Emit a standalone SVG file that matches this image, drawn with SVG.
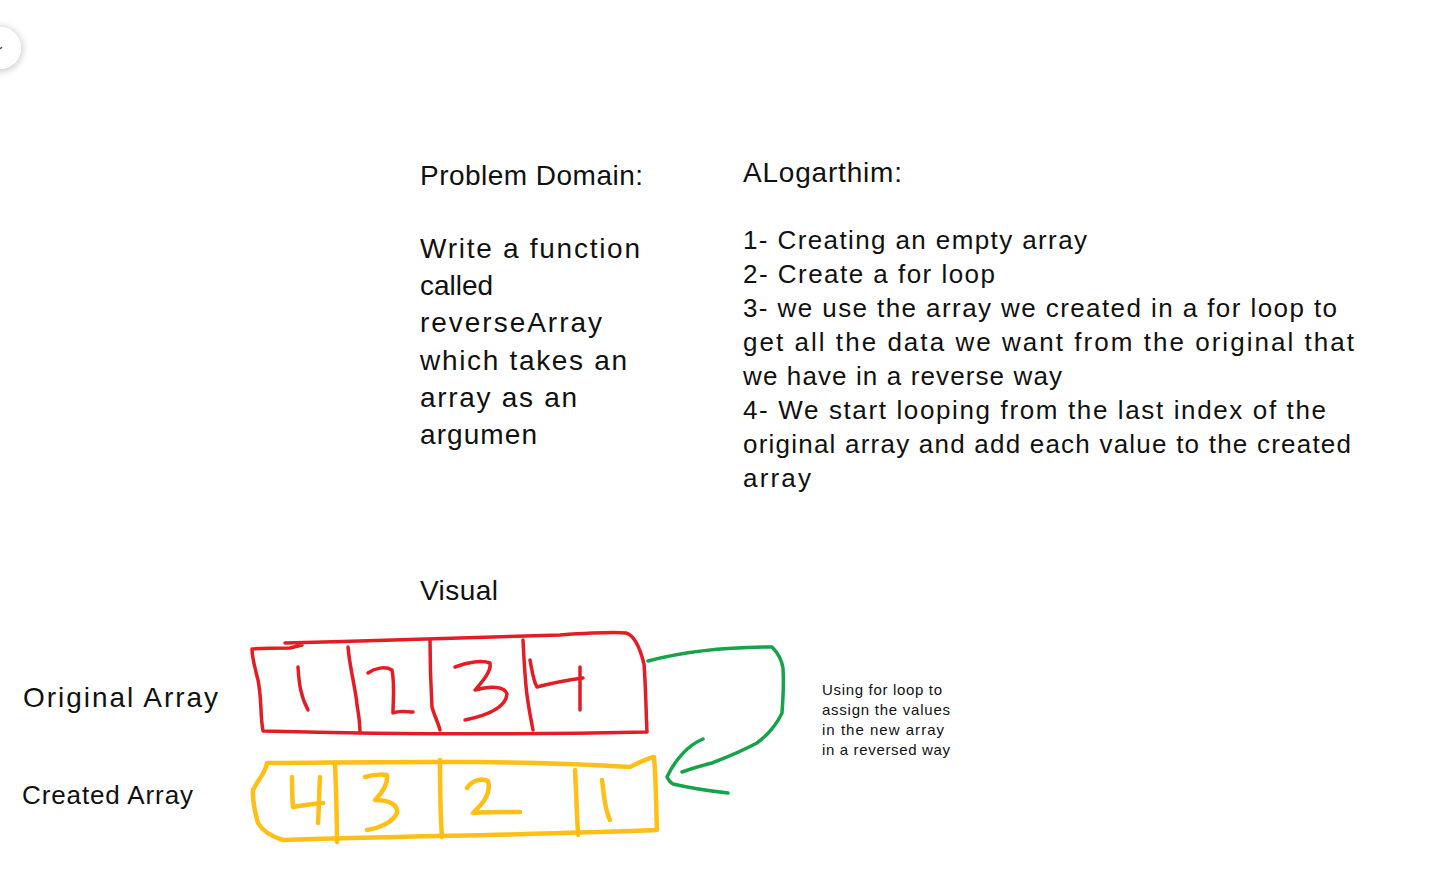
<svg xmlns="http://www.w3.org/2000/svg" width="1437" height="874" viewBox="0 0 1437 874">
<defs>
<filter id="sh" x="-50%" y="-50%" width="200%" height="200%"><feGaussianBlur in="SourceAlpha" stdDeviation="4"/><feOffset dx="0" dy="1"/><feComponentTransfer><feFuncA type="linear" slope="0.3"/></feComponentTransfer><feMerge><feMergeNode/><feMergeNode in="SourceGraphic"/></feMerge></filter>
</defs>
<style>
.t{font-family:"Liberation Sans","DejaVu Sans",sans-serif;fill:#111;font-size:26px}
.b{font-size:28px}
.s{font-size:15px}
.red{fill:none;stroke:#e51c23;stroke-width:3.5;stroke-linecap:round;stroke-linejoin:round}
.yel{fill:none;stroke:#ffbf16;stroke-width:4.5;stroke-linecap:round;stroke-linejoin:round}
.grn{fill:none;stroke:#17a349;stroke-width:3.5;stroke-linecap:round;stroke-linejoin:round}
</style>
<rect width="1437" height="874" fill="#fff"/>
<g id="corner-button"><circle cx="0" cy="48" r="21" fill="#fff" filter="url(#sh)"/><path d="M2 47 L0 49" stroke="#555" stroke-width="1.5"/></g>

<g id="problem-domain">
<text class="t b" x="420" y="185" textLength="223" lengthAdjust="spacing">Problem Domain:</text>
<text class="t b" x="420" y="258" textLength="220" lengthAdjust="spacing">Write a function</text>
<text class="t b" x="420" y="295" textLength="73" lengthAdjust="spacing">called</text>
<text class="t b" x="420" y="332" textLength="182" lengthAdjust="spacing">reverseArray</text>
<text class="t b" x="420" y="370" textLength="207" lengthAdjust="spacing">which takes an</text>
<text class="t b" x="420" y="407" textLength="157" lengthAdjust="spacing">array as an</text>
<text class="t b" x="420" y="444" textLength="117" lengthAdjust="spacing">argumen</text>
</g>

<g id="algorithm">
<text class="t b" x="743" y="182" textLength="159" lengthAdjust="spacing">ALogarthim:</text>
<text class="t" x="743" y="249" textLength="344" lengthAdjust="spacing">1- Creating an empty array</text>
<text class="t" x="743" y="283" textLength="252" lengthAdjust="spacing">2- Create a for loop</text>
<text class="t" x="743" y="317" textLength="594" lengthAdjust="spacing">3- we use the array we created in a for loop to</text>
<text class="t" x="743" y="351" textLength="611" lengthAdjust="spacing">get all the data we want from the original that</text>
<text class="t" x="743" y="385" textLength="319" lengthAdjust="spacing">we have in a reverse way</text>
<text class="t" x="743" y="419" textLength="583" lengthAdjust="spacing">4- We start looping from the last index of the</text>
<text class="t" x="743" y="453" textLength="608" lengthAdjust="spacing">original array and add each value to the created</text>
<text class="t" x="743" y="487" textLength="68" lengthAdjust="spacing">array</text>
</g>

<g id="visual-label"><text class="t b" x="420" y="600" textLength="78" lengthAdjust="spacing">Visual</text></g>
<g id="original-label"><text class="t b" x="23" y="707" textLength="195" lengthAdjust="spacing">Original Array</text></g>
<g id="created-label"><text class="t" x="22" y="804" textLength="171" lengthAdjust="spacing">Created Array</text></g>

<g id="original-array">
<path class="red" d="M290 648 L302 645 M285 643 C380 641 480 637 560 635 C590 633 615 632 626 633 C634 635 640 648 644 664 C646 690 646 715 647 732 C560 734 420 735 263 731 C260 715 262 700 258 680 C255 668 252 658 252 649 C265 648 280 648 290 648"/>
<path class="red" d="M348 647 C350 670 356 690 357 705 C359 716 360 725 360 733"/>
<path class="red" d="M430 640 C430 660 431 690 432 707 C434 715 438 722 440 730"/>
<path class="red" d="M523 640 C524 660 525 680 527 695 C529 710 531 720 533 730"/>
<path class="red" d="M298 667 C299 682 300 695 308 710"/>
<path class="red" d="M368 673 C375 668 385 666 392 670 C395 685 393 700 393 713 C400 710 407 712 413 712"/>
<path class="red" d="M455 667 C468 662 482 660 490 663 C492 672 480 684 475 690 C490 686 505 686 507 694 C506 708 485 716 465 720"/>
<path class="red" d="M530 660 C532 670 533 680 537 687 C552 683 568 680 583 678 M580 667 C580 685 580 698 580 710"/>
</g>

<g id="created-array">
<path class="yel" d="M267 763 C400 762 520 760 630 767 C640 762 648 758 654 757 C656 780 656 805 657 830 C560 834 420 836 283 840 C270 836 262 830 258 823 C255 812 252 800 253 790 C258 780 266 772 267 763"/>
<path class="yel" d="M335 763 C336 790 337 815 337 842"/>
<path class="yel" d="M440 760 C440 785 440 810 442 837"/>
<path class="yel" d="M575 770 C576 790 577 815 578 835"/>
<path class="yel" d="M292 777 C292 787 292 798 293 807 C303 805 313 804 323 803 M320 777 C319 792 319 808 318 823"/>
<path class="yel" d="M365 777 C372 775 380 774 387 775 C388 785 380 795 375 800 C390 800 398 805 397 813 C393 822 380 828 367 830"/>
<path class="yel" d="M467 788 C472 780 482 778 488 781 C492 795 480 806 473 813 C488 812 505 812 520 812"/>
<path class="yel" d="M602 780 C604 793 604 808 610 820"/>
</g>

<g id="connectors">
<path class="grn" d="M648 661 C690 650 730 647 772 647 C780 655 782 662 783 668 C784 685 783 700 782 713 C775 728 765 737 757 743 C740 752 725 758 712 763 C700 766 690 769 682 772"/>
<path class="grn" d="M703 739 C688 745 675 760 667 777 C669 781 671 783 673 784 C690 788 710 791 728 793"/>
</g>

<g id="loop-note">
<text class="t s" x="822" y="695" textLength="120" lengthAdjust="spacing">Using for loop to</text>
<text class="t s" x="822" y="715" textLength="128" lengthAdjust="spacing">assign the values</text>
<text class="t s" x="822" y="735" textLength="122" lengthAdjust="spacing">in the new array</text>
<text class="t s" x="822" y="755" textLength="128" lengthAdjust="spacing">in a reversed way</text>
</g>
</svg>
